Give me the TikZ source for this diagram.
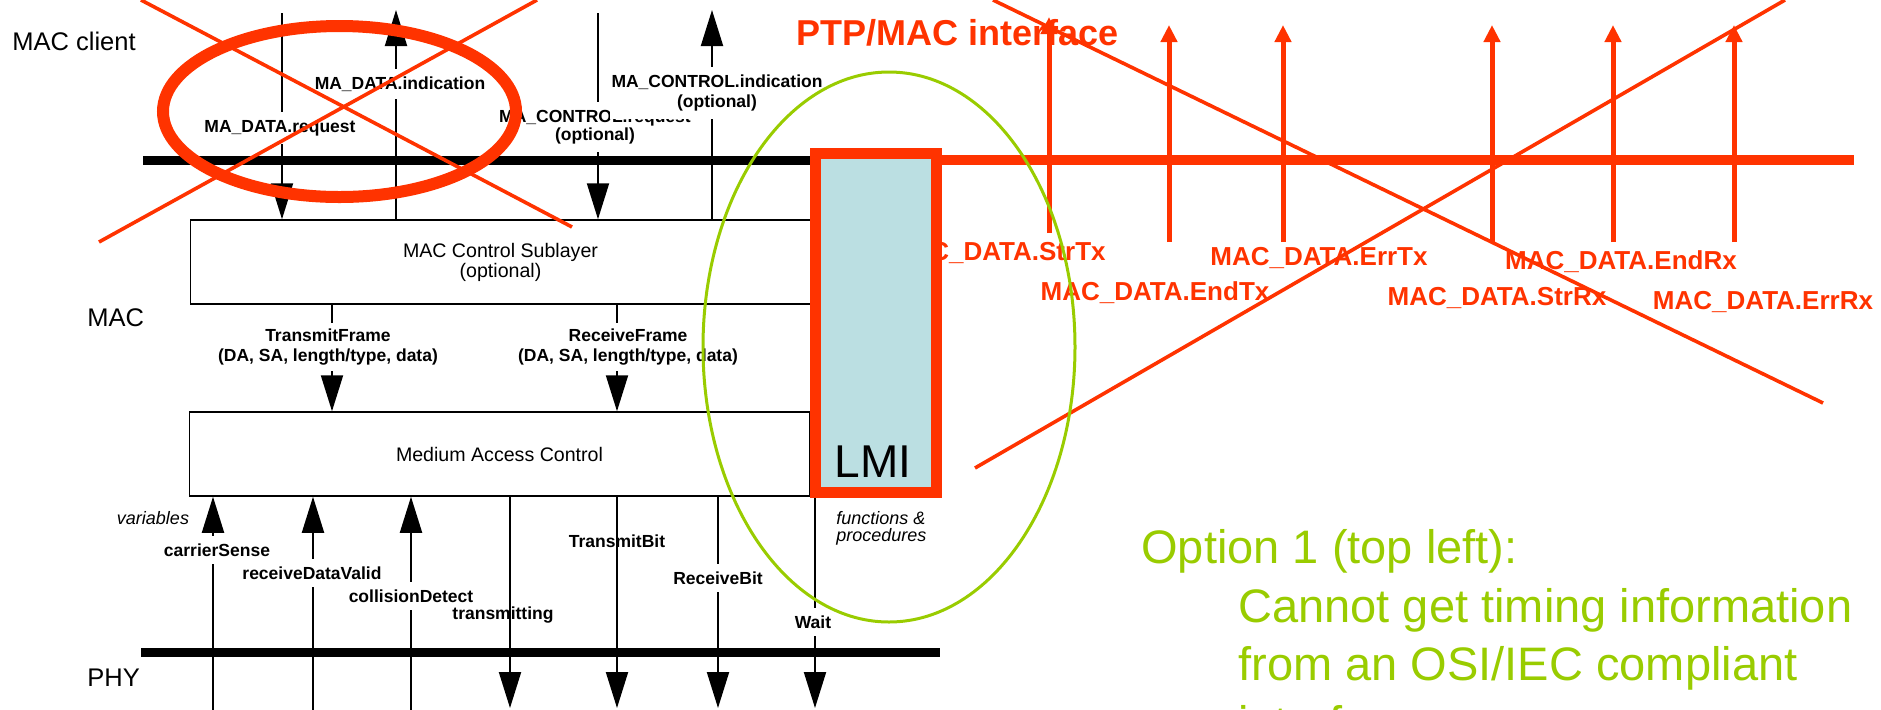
\documentclass[tikz,border=0pt]{standalone}
\usepackage{fontspec}
\setmainfont{Liberation Sans}
\usetikzlibrary{arrows.meta}
\definecolor{ptpred}{HTML}{FF3300}
\definecolor{optgreen}{HTML}{99CC00}
\definecolor{lmiblue}{HTML}{BBDFE2}

\begin{document}
\begin{tikzpicture}[
    x=0.5pt, y=-0.5pt,
    sig/.style={line width=1pt, -{Triangle[length=18pt,width=11pt]}},
    layerbox/.style={draw, line width=0.75pt, minimum width=310pt, minimum height=42pt, inner sep=0pt, align=center, font=\fontsize{9.8}{10}\selectfont},
    bar/.style={line width=4.5pt},
    lbl/.style={font=\fontsize{8.75}{10}\selectfont\bfseries, align=center, inner sep=1pt},
    gap/.style={fill=white, inner ysep=4pt},
    ital/.style={font=\fontsize{9}{8.5}\selectfont\itshape, align=left, inner sep=0pt},
    layer/.style={font=\fontsize{12.75}{14}\selectfont, inner sep=0pt},
    ptparrow/.style={ptpred, line width=2.5pt, -{Triangle[length=8.5pt,width=8pt]}},
    ptplbl/.style={ptpred, font=\fontsize{13}{14}\selectfont\bfseries, inner sep=0pt},
    cross/.style={ptpred, line width=1.8pt},
    lmibox/.style={draw=ptpred, line width=5.5pt, fill=lmiblue, minimum width=60.75pt, minimum height=169.5pt, inner sep=0pt},
    opttext/.style={optgreen, font=\fontsize{23.5}{29.25}\selectfont, anchor=base west, align=left, inner sep=0pt}
  ]
  \useasboundingbox (0,0) rectangle (1881,709);

  % layer names
  \node[layer, anchor=west] (client) at (12,41) {MAC client};
  \node[layer, anchor=west] (maclayer) at (87,318) {MAC};
  \node[layer, anchor=west] (phy) at (87,678) {PHY};

  % sublayer boxes
  \node[layerbox] (mcs) at (500.5,262) {MAC Control Sublayer\\(optional)};
  \node[layerbox] (mac) at (499.5,454) {Medium Access Control};

  % LMI box (drawn again on top of the red labels later on)
  \node[lmibox] (lmi) at (875.75,322.5) {};

  % service interface bars
  \coordinate (barL) at (143,160);
  \coordinate (phyL) at (141,652);
  \draw[bar] (barL) -- (barL -| lmi.west);
  \draw[bar] (phyL) -- (940,652);

  % MAC client primitives
  \coordinate (req) at (282,13);
  \coordinate (ind) at (396,10);
  \coordinate (creq) at (598,13);
  \coordinate (cind) at (712,10);
  \draw[sig] (req) -- (req |- mcs.north);
  \draw[sig] (ind |- mcs.north) -- (ind);
  \draw[sig] (creq) -- (creq |- mcs.north);
  \draw[sig] (cind |- mcs.north) -- (cind);
  \node[lbl, gap] (reqlbl) at (280,128) {MA\_DATA.request};
  \node[lbl, gap] (indlbl) at (400,84) {MA\_DATA.indication};
  \node[lbl, gap, font=\fontsize{8.75}{7}\selectfont\bfseries] (creqlbl) at (595,127) {MA\_CONTROL.request\\(optional)};
  \node[lbl, gap] (cindlbl) at (717,93) {MA\_CONTROL.indication\\(optional)};

  % frames between the sublayers
  \coordinate (txf) at (332,304);
  \coordinate (rxf) at (617,304);
  \draw[sig] (txf) -- (txf |- mac.north);
  \draw[sig] (rxf) -- (rxf |- mac.north);
  \node[lbl, gap, inner ysep=3pt] (txflbl) at (328,347) {TransmitFrame\\(DA, SA, length/type, data)};
  \node[lbl, gap, inner ysep=3pt] (rxflbl) at (628,347) {ReceiveFrame\\(DA, SA, length/type, data)};

  % PHY variables and procedures
  \foreach \n/\x in {cs/213, rdv/313, cd/411} {
    \coordinate (\n) at (\x,712);
    \draw[sig] (\n) -- (\n |- mac.south);
  }
  \foreach \n/\x in {tm/510, tb/617, rb/718} {
    \coordinate (\n) at (\x,708);
    \draw[sig] (\n |- mac.south) -- (\n);
  }
  \coordinate (wt) at (815,708);
  \draw[sig] (wt |- lmi.south) -- (wt);

  \node[lbl, gap] (cslbl) at (217,550) {carrierSense};
  \node[lbl, gap] (rdvlbl) at (312,573) {receiveDataValid};
  \node[lbl, gap] (cdlbl) at (411,596) {collisionDetect};
  \node[lbl] (tmlbl) at (503,615) {transmitting};
  \node[lbl] (tblbl) at (617,541) {TransmitBit};
  \node[lbl, gap] (rblbl) at (718,578) {ReceiveBit};
  \node[lbl, gap] (wtlbl) at (813,622) {Wait};
  \node[ital] (vars) at (153,518) {variables};
  \node[ital, anchor=west] (funcs) at (836,528) {functions \&\\procedures};

  % PTP/MAC interface
  \node[ptplbl, anchor=east] (strtx) at (1106,253) {MAC\_DATA.StrTx};
  \node[ptplbl] (endtx) at (1155,293) {MAC\_DATA.EndTx};
  \node[ptplbl] (errtx) at (1319,258) {MAC\_DATA.ErrTx};
  \node[ptplbl] (endrx) at (1621,262) {MAC\_DATA.EndRx};
  \node[ptplbl] (strrx) at (1497,298) {MAC\_DATA.StrRx};
  \node[ptplbl] (errrx) at (1763,302) {MAC\_DATA.ErrRx};
  \node[ptpred, font=\fontsize{18}{20}\selectfont\bfseries, anchor=base west, inner sep=0pt] (ptpif) at (796,45) {PTP/MAC interface};

  \draw[ptpred, line width=5pt] (lmi.east |- barL) -- (1854,160);
  \foreach \x/\b/\t in {1049/233/17, 1169/242/25, 1283/242/25, 1492/242/25, 1613/242/25, 1734/242/25}
    \draw[ptparrow] (\x,\b) -- (\x,\t);

  % LMI on top
  \node[lmibox] (lmi) at (875.75,322.5) {};
  \node[font=\fontsize{23}{23}\selectfont, anchor=base, inner sep=0pt] (lmitext) at (873,477) {LMI};

  % crossed out
  \draw[ptpred, line width=6pt] (339.5,111.5) ellipse [x radius=88.25pt, y radius=42.75pt];
  \draw[cross] (141,0) -- (572,227);
  \draw[cross] (537,0) -- (99,242);
  \draw[cross] (993,0) -- (1823,403);
  \draw[cross] (1785,0) -- (975,468);

  % option 1
  \draw[optgreen, line width=1.5pt] (889,347) ellipse [x radius=93pt, y radius=137.5pt];
  \node[opttext] (opt) at (1141,563) {Option 1 (top left):};
  \node[opttext] (optwhy) at (1238,739) {Cannot get timing information\\from an OSI/IEC compliant\\interface};
\end{tikzpicture}
\end{document}
